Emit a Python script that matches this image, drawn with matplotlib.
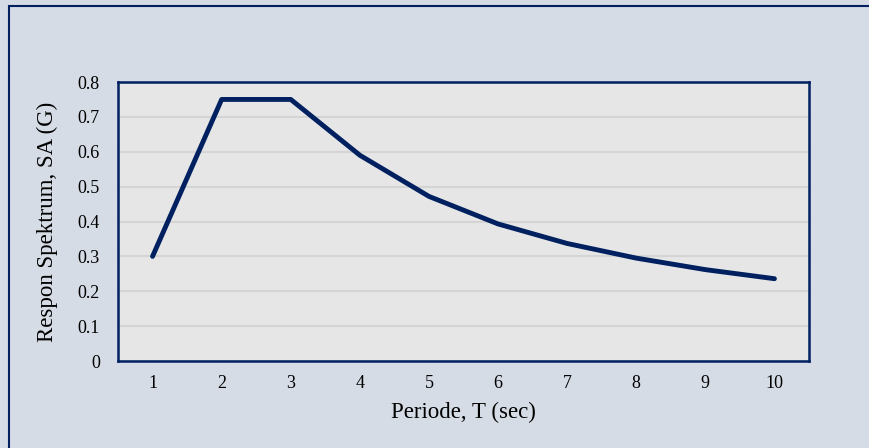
import matplotlib
matplotlib.use("Agg")
import matplotlib.pyplot as plt
from matplotlib.patches import Rectangle

# data
periode = [1, 2, 3, 4, 5, 6, 7, 8, 9, 10]
sa = [0.30, 0.75, 0.75, 0.59, 0.472, 0.393, 0.337, 0.295, 0.262, 0.236]
y_ticks = [0, 0.1, 0.2, 0.3, 0.4, 0.5, 0.6, 0.7, 0.8]
y_labels = ["0", "0.1", "0.2", "0.3", "0.4", "0.5", "0.6", "0.7", "0.8"]

navy = "#002060"
W, H = 869, 448

plt.rcParams["font.family"] = ["Liberation Serif", "DejaVu Serif"]

fig = plt.figure(figsize=(W / 100, H / 100), dpi=100)
fig.patch.set_facecolor("#D6DCE5")

# bingkai luar (terpotong di kanan & bawah)
fig.patches.append(Rectangle((9 / W, -0.1), 1.2, (H - 6) / H + 0.1,
                             transform=fig.transFigure, fill=False,
                             edgecolor=navy, linewidth=1.5))

ax = fig.add_axes([118 / W, 1 - 361 / H, (809 - 118) / W, (361 - 82) / H])
ax.set_facecolor("#E6E6E6")

ax.plot(periode, sa, color=navy, linewidth=3.5, solid_capstyle="round",
        solid_joinstyle="round", zorder=3)

ax.set_xlim(0.5, 10.5)
ax.set_ylim(0, 0.8)
ax.set_xticks(periode)
ax.set_xticklabels([str(p) for p in periode])
ax.set_yticks(y_ticks)
ax.set_yticklabels(y_labels)
ax.tick_params(axis="both", length=0, labelsize=13, colors="black")
ax.tick_params(axis="x", pad=10)
ax.tick_params(axis="y", pad=13)

ax.grid(axis="y", color="#D4D4D4", linewidth=1.5)
ax.set_axisbelow(True)
for s in ax.spines.values():
    s.set_color(navy)
    s.set_linewidth(1.8)

ax.set_xlabel("Periode, T (sec)", fontsize=16.5, labelpad=7)
ax.set_ylabel("Respon Spektrum, SA (G)", fontsize=16.5, labelpad=14)

fig.savefig("out.png", dpi=100, facecolor=fig.get_facecolor())
